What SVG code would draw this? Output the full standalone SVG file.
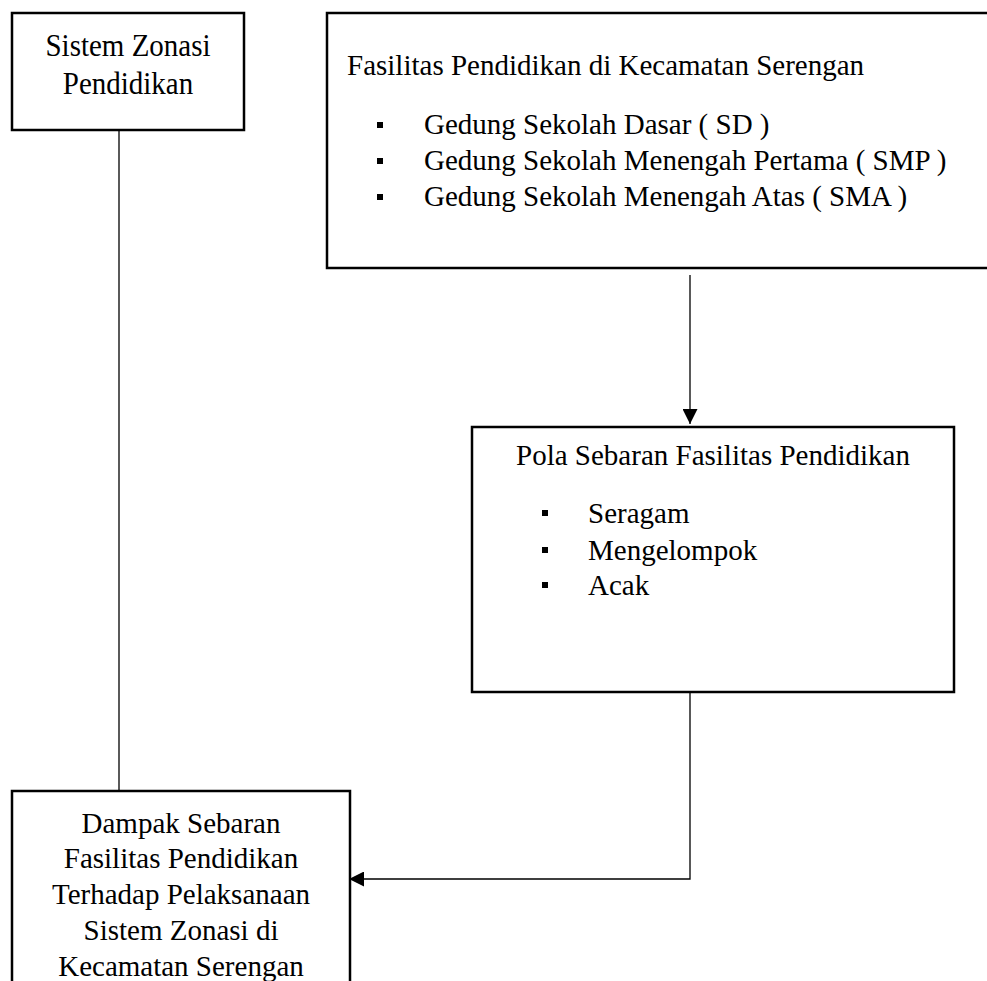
<svg xmlns="http://www.w3.org/2000/svg" width="987" height="981" viewBox="0 0 987 981">
<style>
.box{fill:#fff;stroke:#000;stroke-width:2.5}
.t{font-family:"Liberation Serif","Times New Roman",serif;font-size:29px;fill:#000}
.c{text-anchor:middle}
.conn{fill:none;stroke:#000;stroke-width:1.3}
.bul{fill:#000}
</style>
<defs>
<marker id="ah" markerWidth="15" markerHeight="15" refX="15" refY="7.5" orient="auto" markerUnits="userSpaceOnUse">
<path d="M0,0 L15,7.5 L0,15 Z" fill="#000"/>
</marker>
</defs>
<rect width="987" height="981" fill="#fff"/>
<g id="connectors">
<line class="conn" x1="119" y1="130" x2="119" y2="791"/>
<line class="conn" x1="690" y1="275" x2="690" y2="424" marker-end="url(#ah)"/>
<polyline class="conn" points="690,692 690,879 349,879" marker-end="url(#ah)"/>
</g>
<g id="node-sistem-zonasi">
<rect class="box" x="12" y="13" width="232" height="117"/>
<text class="t c" transform="translate(128,56) scale(1,1.12)">Sistem Zonasi</text>
<text class="t c" transform="translate(128,94) scale(1,1.12)">Pendidikan</text>
</g>
<g id="node-fasilitas">
<rect class="box" x="327" y="13" width="700" height="255"/>
<text class="t" x="347" y="75">Fasilitas Pendidikan di Kecamatan Serengan</text>
<rect class="bul" x="377" y="122" width="6" height="6"/>
<rect class="bul" x="377" y="158" width="6" height="6"/>
<rect class="bul" x="377" y="194" width="6" height="6"/>
<text class="t" x="424" y="134">Gedung Sekolah Dasar ( SD )</text>
<text class="t" x="424" y="170">Gedung Sekolah Menengah Pertama ( SMP )</text>
<text class="t" x="424" y="206">Gedung Sekolah Menengah Atas ( SMA )</text>
</g>
<g id="node-pola">
<rect class="box" x="472" y="427" width="482" height="265"/>
<text class="t c" x="713" y="465">Pola Sebaran Fasilitas Pendidikan</text>
<rect class="bul" x="542" y="510" width="6" height="6"/>
<rect class="bul" x="542" y="547" width="6" height="6"/>
<rect class="bul" x="542" y="582" width="6" height="6"/>
<text class="t" x="588" y="523">Seragam</text>
<text class="t" x="588" y="560">Mengelompok</text>
<text class="t" x="588" y="595">Acak</text>
</g>
<g id="node-dampak">
<rect class="box" x="12" y="791" width="338" height="260"/>
<text class="t c" x="181" y="833">Dampak Sebaran</text>
<text class="t c" x="181" y="868">Fasilitas Pendidikan</text>
<text class="t c" x="181" y="904">Terhadap Pelaksanaan</text>
<text class="t c" x="181" y="940">Sistem Zonasi di</text>
<text class="t c" x="181" y="976">Kecamatan Serengan</text>
</g>
</svg>
